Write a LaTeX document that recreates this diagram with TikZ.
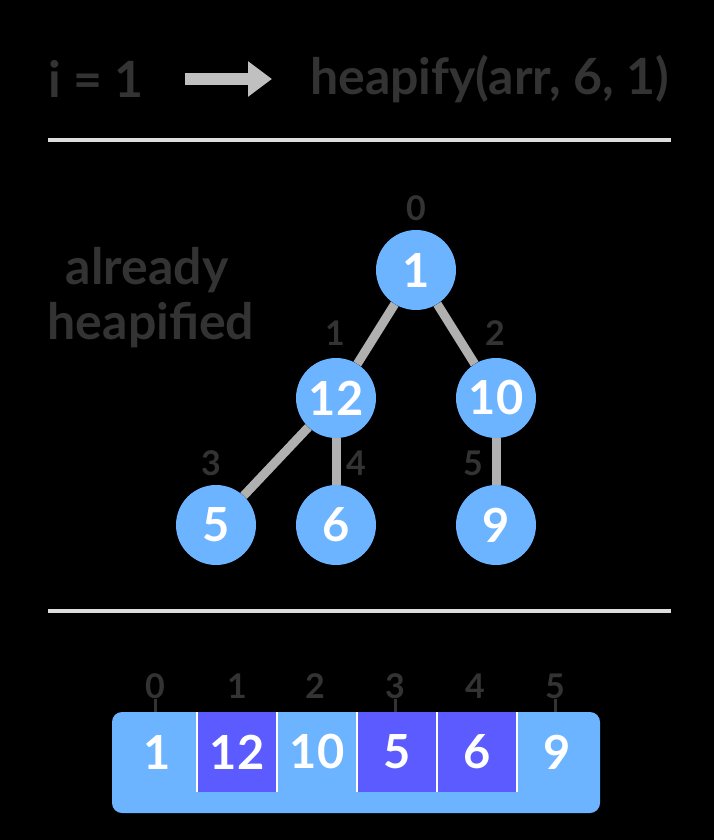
\documentclass[tikz,border=0pt]{standalone}
\usepackage{fontspec}
\setmainfont{Lato}
\usetikzlibrary{arrows.meta,backgrounds}
\definecolor{lblue}{HTML}{6CB4FF}
\definecolor{purp}{HTML}{5B5BFF}
\definecolor{edgegray}{HTML}{B0B0B0}
\definecolor{rulegray}{HTML}{DDDDDD}
\definecolor{dtext}{HTML}{333333}
\tikzset{
  heapnode/.style={circle, fill=lblue, minimum size=80pt, inner sep=0pt, text=white, font=\fontsize{47}{52}\selectfont\bfseries},
  idx/.style={text=dtext, font=\fontsize{34}{38}\selectfont\bfseries, inner sep=0pt},
  bigtxt/.style={text=dtext, font=\fontsize{50}{56}\selectfont\bfseries, inner sep=0pt},
  tedge/.style={draw=edgegray, line width=9pt},
  cellnum/.style={text=white, font=\fontsize{47}{52}\selectfont\bfseries, inner sep=0pt},
  sep/.style={draw=white, line width=2pt},
  tick/.style={draw=dtext, line width=3pt},
  hrule/.style={draw=rulegray, line width=4pt}
}
\begin{document}
\begin{tikzpicture}[x=1pt,y=-1pt]
\useasboundingbox (0,0) rectangle (714,840);
% top line
\node[bigtxt, anchor=west] (iv) at (48,79) {i = 1};
\coordinate (as) at (185,79);
\coordinate (ae) at (272,79);
\draw[draw=edgegray!80!white, line width=12pt, -{Triangle[length=24pt,width=34pt]}] (as) -- (ae);
\node[bigtxt, anchor=west] (hf) at (310,79) {heapify(arr, 6, 1)};
\coordinate (r1a) at (48,140); \coordinate (r1b) at (671,140);
\draw[hrule] (r1a) -- (r1b);
% already heapified
\node[bigtxt] (al) at (147,270) {already};
\node[bigtxt] (hp) at (151,325) {heapified};
% tree
\node[heapnode] (n0) at (416,270) {1};
\node[heapnode] (n1) at (336,398) {12};
\node[heapnode] (n2) at (496,398) {10};
\node[heapnode] (n3) at (216,525) {5};
\node[heapnode] (n4) at (336,525) {6};
\node[heapnode] (n5) at (496,525) {9};
\begin{scope}[on background layer]
\fill[black] (0,0) rectangle (714,840);
\draw[tedge] (n0) -- (n1);
\draw[tedge] (n0) -- (n2);
\draw[tedge] (n1) -- (n3);
\draw[tedge] (n1) -- (n4);
\draw[tedge] (n2) -- (n5);
\end{scope}
\node[idx] (t0) at (416,208) {0};
\node[idx] (t1) at (335,333) {1};
\node[idx] (t2) at (495,333) {2};
\node[idx] (t3) at (211,463) {3};
\node[idx] (t4) at (356,463) {4};
\node[idx] (t5) at (473,463) {5};
\coordinate (r2a) at (48,611); \coordinate (r2b) at (671,611);
\draw[hrule] (r2a) -- (r2b);
% array
\fill[lblue, rounded corners=10pt] (112,712) rectangle (600,813);
\fill[purp] (197,712) rectangle (277,792);
\fill[purp] (357,712) rectangle (517,792);
\foreach \x in {197,277,357,437,517}{\draw[sep] (\x,712) -- (\x,792);}
\node[cellnum] (c0) at (157,752) {1};
\node[cellnum] (c1) at (237,752) {12};
\node[cellnum] (c2) at (317,752) {10};
\node[cellnum] (c3) at (397,752) {5};
\node[cellnum] (c4) at (477,752) {6};
\node[cellnum] (c5) at (557,752) {9};
\node[idx] (i0) at (155,686) {0};
\node[idx] (i1) at (237,686) {1};
\node[idx] (i2) at (315,686) {2};
\node[idx] (i3) at (395,686) {3};
\node[idx] (i4) at (475,686) {4};
\node[idx] (i5) at (555,686) {5};
\coordinate (k0) at (155,712); \coordinate (k3) at (395,712); \coordinate (k5) at (555,712);
\draw[tick] (i0.south) -- (k0);
\draw[tick] (i3.south) -- (k3);
\draw[tick] (i5.south) -- (k5);
\end{tikzpicture}
\end{document}
